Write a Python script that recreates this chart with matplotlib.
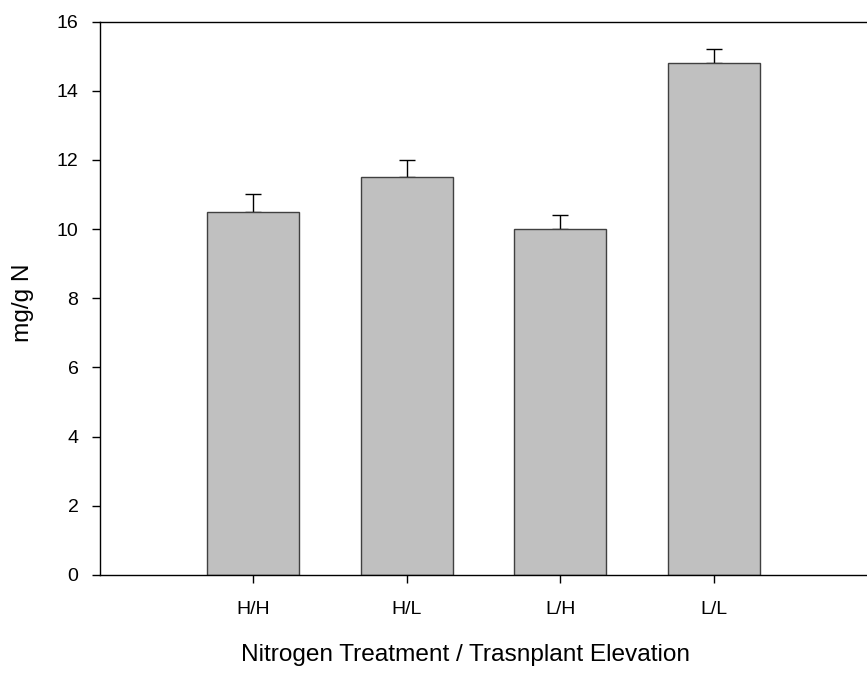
import matplotlib
matplotlib.use("Agg")
import matplotlib.pyplot as plt
import numpy as np

# nitrogen content per treatment group
groups = ["H/H", "H/L", "L/H", "L/L"]
mean_n = [10.5, 11.5, 10.0, 14.8]
se_n = [0.5, 0.5, 0.4, 0.4]

plt.rcParams["font.family"] = ["Liberation Sans", "DejaVu Sans"]

fig = plt.figure(figsize=(8.67, 6.77), dpi=100)
ax = fig.add_axes([0.1153, 0.1507, 0.8847, 0.8175])

x = np.arange(len(groups))
ax.bar(x, mean_n, width=0.6, color="#c0c0c0", edgecolor="#404040", linewidth=1.0, zorder=2)
# only the upper half of the error bar is drawn
ax.errorbar(x, mean_n, yerr=[np.zeros(len(se_n)), se_n], fmt="none",
            ecolor="black", elinewidth=1.0, capsize=6, capthick=1.0, zorder=1)

ax.set_xlim(-1, 4)
ax.set_ylim(0, 16)
ax.set_xticks(x)
ax.set_xticklabels(groups)
ax.set_yticks(np.arange(0, 17, 2))

ax.spines["right"].set_visible(False)
for s in ["left", "bottom", "top"]:
    ax.spines[s].set_linewidth(1.0)
ax.tick_params(direction="out", length=6, width=1.0, labelsize=14)
ax.tick_params(axis="y", pad=9.5)
ax.tick_params(axis="x", pad=12.5)

ax.set_xlabel("Nitrogen Treatment / Trasnplant Elevation", fontsize=17.6, labelpad=19)
ax.set_ylabel("mg/g N", fontsize=17.6, labelpad=16)
ax.xaxis.label.set_x(0.477)
ax.yaxis.label.set_y(0.492)

fig.savefig("out.png", dpi=100)
